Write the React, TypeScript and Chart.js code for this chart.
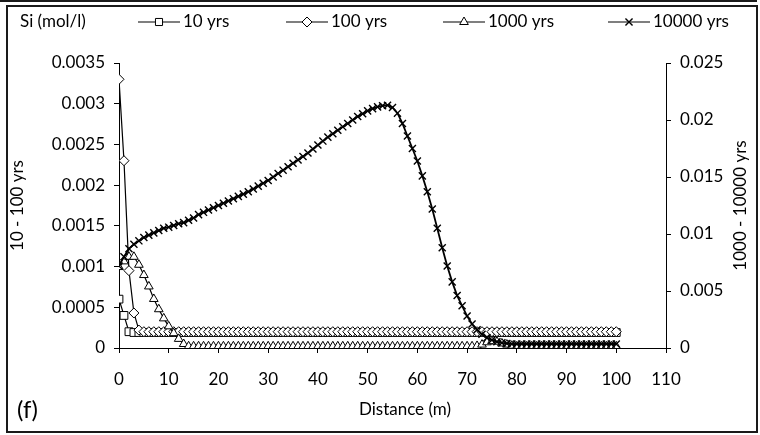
import { useEffect, useRef } from 'react';
import { Chart, registerables } from 'chart.js';
import { drawPoint } from 'chart.js/helpers';

Chart.register(...registerables);

// Distance along the profile (m)
const distance = [
  0, 1, 2, 3, 4, 5, 6, 7, 8, 9,
  10, 11, 12, 13, 14, 15, 16, 17, 18, 19,
  20, 21, 22, 23, 24, 25, 26, 27, 28, 29,
  30, 31, 32, 33, 34, 35, 36, 37, 38, 39,
  40, 41, 42, 43, 44, 45, 46, 47, 48, 49,
  50, 51, 52, 53, 54, 55, 56, 57, 58, 59,
  60, 61, 62, 63, 64, 65, 66, 67, 68, 69,
  70, 71, 72, 73, 74, 75, 76, 77, 78, 79,
  80, 81, 82, 83, 84, 85, 86, 87, 88, 89,
  90, 91, 92, 93, 94, 95, 96, 97, 98, 99,
  100,
];

// Si (mol/l) after 10 years (left axis)
const si10yrs = [
  0.0006, 0.0004, 0.0002, 0.00019, 0.00019, 0.00019, 0.00019, 0.00019, 0.00019, 0.00019,
  0.00019, 0.00019, 0.00019, 0.00019, 0.00019, 0.00019, 0.00019, 0.00019, 0.00019, 0.00019,
  0.00019, 0.00019, 0.00019, 0.00019, 0.00019, 0.00019, 0.00019, 0.00019, 0.00019, 0.00019,
  0.00019, 0.00019, 0.00019, 0.00019, 0.00019, 0.00019, 0.00019, 0.00019, 0.00019, 0.00019,
  0.00019, 0.00019, 0.00019, 0.00019, 0.00019, 0.00019, 0.00019, 0.00019, 0.00019, 0.00019,
  0.00019, 0.00019, 0.00019, 0.00019, 0.00019, 0.00019, 0.00019, 0.00019, 0.00019, 0.00019,
  0.00019, 0.00019, 0.00019, 0.00019, 0.00019, 0.00019, 0.00019, 0.00019, 0.00019, 0.00019,
  0.00019, 0.00019, 0.00019, 0.00019, 0.00019, 0.00019, 0.00019, 0.00019, 0.00019, 0.00019,
  0.00019, 0.00019, 0.00019, 0.00019, 0.00019, 0.00019, 0.00019, 0.00019, 0.00019, 0.00019,
  0.00019, 0.00019, 0.00019, 0.00019, 0.00019, 0.00019, 0.00019, 0.00019, 0.00019, 0.00019,
  0.00019,
];

// Si (mol/l) after 100 years (left axis)
const si100yrs = [
  0.0033, 0.0023, 0.00095, 0.00043, 0.00022, 0.0002, 0.0002, 0.0002, 0.0002, 0.0002,
  0.0002, 0.0002, 0.0002, 0.0002, 0.0002, 0.0002, 0.0002, 0.0002, 0.0002, 0.0002,
  0.0002, 0.0002, 0.0002, 0.0002, 0.0002, 0.0002, 0.0002, 0.0002, 0.0002, 0.0002,
  0.0002, 0.0002, 0.0002, 0.0002, 0.0002, 0.0002, 0.0002, 0.0002, 0.0002, 0.0002,
  0.0002, 0.0002, 0.0002, 0.0002, 0.0002, 0.0002, 0.0002, 0.0002, 0.0002, 0.0002,
  0.0002, 0.0002, 0.0002, 0.0002, 0.0002, 0.0002, 0.0002, 0.0002, 0.0002, 0.0002,
  0.0002, 0.0002, 0.0002, 0.0002, 0.0002, 0.0002, 0.0002, 0.0002, 0.0002, 0.0002,
  0.0002, 0.0002, 0.0002, 0.0002, 0.0002, 0.0002, 0.0002, 0.0002, 0.0002, 0.0002,
  0.0002, 0.0002, 0.0002, 0.0002, 0.0002, 0.0002, 0.0002, 0.0002, 0.0002, 0.0002,
  0.0002, 0.0002, 0.0002, 0.0002, 0.0002, 0.0002, 0.0002, 0.0002, 0.0002, 0.0002,
  0.0002,
];

// Si (mol/l) after 1000 years (right axis)
const si1000yrs = [
  0.0071, 0.0076, 0.008, 0.008, 0.0073, 0.0064, 0.0054, 0.0043, 0.0034, 0.0026,
  0.0019, 0.0013, 0.0008, 0.00035, 0.00015, 0.00015, 0.00015, 0.00015, 0.00015, 0.00015,
  0.00015, 0.00015, 0.00015, 0.00015, 0.00015, 0.00015, 0.00015, 0.00015, 0.00015, 0.00015,
  0.00015, 0.00015, 0.00015, 0.00015, 0.00015, 0.00015, 0.00015, 0.00015, 0.00015, 0.00015,
  0.00015, 0.00015, 0.00015, 0.00015, 0.00015, 0.00015, 0.00015, 0.00015, 0.00015, 0.00015,
  0.00015, 0.00015, 0.00015, 0.00015, 0.00015, 0.00015, 0.00015, 0.00015, 0.00015, 0.00015,
  0.00015, 0.00015, 0.00015, 0.00015, 0.00015, 0.00015, 0.00015, 0.00015, 0.00015, 0.00015,
  0.00015, 0.00015, 0.00018, 0.0003, 0.0005, 0.0006, 0.00055, 0.0004, 0.0003, 0.0002,
  0.00015, 0.00015, 0.00015, 0.00015, 0.00015, 0.00015, 0.00015, 0.00015, 0.00015, 0.00015,
  0.00015, 0.00015, 0.00015, 0.00015, 0.00015, 0.00015, 0.00015, 0.00015, 0.00015, 0.00015,
  0.00015,
];

// Si (mol/l) after 10000 years (right axis)
const si10000yrs = [
  0.0072, 0.008, 0.0087, 0.0091, 0.0094, 0.0097, 0.0099, 0.0101, 0.0103, 0.0105,
  0.0106, 0.01075, 0.0109, 0.011, 0.0112, 0.0114, 0.0117, 0.0119, 0.0121, 0.0123,
  0.0125, 0.0127, 0.0129, 0.0131, 0.0133, 0.0135, 0.0137, 0.01395, 0.0142, 0.01445,
  0.0147, 0.015, 0.0153, 0.0156, 0.0159, 0.0162, 0.0165, 0.0168, 0.0171, 0.01745,
  0.0178, 0.01815, 0.0185, 0.0188, 0.0191, 0.0194, 0.0197, 0.02, 0.0203, 0.02055,
  0.0208, 0.021, 0.02115, 0.02125, 0.0213, 0.0211, 0.0206, 0.0197, 0.0186, 0.0175,
  0.0164, 0.0151, 0.0137, 0.0122, 0.0105, 0.0088, 0.0072, 0.0058, 0.0046, 0.0037,
  0.0028, 0.0021, 0.0016, 0.0012, 0.0009, 0.0007, 0.00055, 0.00045, 0.0004, 0.00035,
  0.00035, 0.00035, 0.00035, 0.00035, 0.00035, 0.00035, 0.00035, 0.00035, 0.00035, 0.00035,
  0.00035, 0.00035, 0.00035, 0.00035, 0.00035, 0.00035, 0.00035, 0.00035, 0.00035, 0.00035,
  0.00035,
];

const seriesLabels = ['10 yrs', '100 yrs', '1000 yrs', '10000 yrs'];
const markerStyles = ['rect', 'rectRot', 'triangle', 'crossRot'];

const FONT = 'Lato, "Open Sans", sans-serif';
const FONT_SIZE = 17;
const INK = '#000';

const fmtTick = (v: number | string) => String(Number(Number(v).toFixed(4)));

// Frame, axis titles, panel letter and the legend row
const decorations = {
  id: 'decorations',
  beforeDraw(chart: Chart) {
    const ctx = chart.ctx;
    ctx.save();
    ctx.fillStyle = '#fff';
    ctx.fillRect(0, 0, chart.width, chart.height);
    ctx.restore();
  },
  afterDraw(chart: Chart) {
    const ctx = chart.ctx;
    const area = chart.chartArea;
    const midY = (area.top + area.bottom) / 2;
    ctx.save();

    // outer frame
    ctx.strokeStyle = '#1a1a1a';
    ctx.lineWidth = 2;
    ctx.beginPath();
    ctx.moveTo(0, 1);
    ctx.lineTo(757, 1);
    ctx.stroke();
    ctx.strokeRect(7, 6, 750, 426);

    ctx.fillStyle = INK;
    ctx.font = `${FONT_SIZE}px ${FONT}`;
    ctx.textBaseline = 'middle';

    // rotated axis titles
    ctx.textAlign = 'center';
    ctx.save();
    ctx.translate(18, midY);
    ctx.rotate(-Math.PI / 2);
    ctx.fillText('10 - 100 yrs', 0, 0);
    ctx.restore();
    ctx.save();
    ctx.translate(741, midY);
    ctx.rotate(-Math.PI / 2);
    ctx.fillText('1000 - 10000 yrs', 0, 0);
    ctx.restore();

    ctx.fillText('Distance (m)', 405, 410);
    ctx.font = `24px ${FONT}`;
    ctx.textAlign = 'left';
    ctx.fillText('(f)', 17, 410);

    // legend row
    ctx.font = `${FONT_SIZE}px ${FONT}`;
    ctx.fillText('Si (mol/l)', 20, 22);
    const legendStarts = [138, 286, 443, 608];
    const ly = 22;
    seriesLabels.forEach((label, i) => {
      const x0 = legendStarts[i];
      ctx.strokeStyle = INK;
      ctx.lineWidth = 1.2;
      ctx.beginPath();
      ctx.moveTo(x0, ly);
      ctx.lineTo(x0 + 42, ly);
      ctx.stroke();
      ctx.fillStyle = '#fff';
      ctx.lineWidth = i === 3 ? 1.4 : 1;
      drawPoint(ctx, { pointStyle: markerStyles[i] as any, rotation: 0, radius: 5, borderWidth: 1 }, x0 + 21, ly);
      ctx.fillStyle = INK;
      ctx.fillText(label, x0 + 45, ly);
    });

    ctx.restore();
  },
};

export default function App() {
  const canvasRef = useRef<HTMLCanvasElement>(null);

  useEffect(() => {
    const canvas = canvasRef.current;
    if (!canvas) return;
    const toPoints = (values: number[]) => distance.map((d, i) => ({ x: d, y: values[i] }));
    const base = {
      borderColor: INK,
      pointBorderColor: INK,
      pointBackgroundColor: '#fff',
      pointBorderWidth: 1,
      pointRadius: 5,
      borderWidth: 1.2,
      tension: 0,
      fill: false,
    };
    const tickFont = { family: FONT, size: FONT_SIZE };
    const axisGrid = { drawOnChartArea: false, drawTicks: true, tickLength: 5, color: INK };
    const axisBorder = { color: INK, width: 1 };

    const chart = new Chart(canvas, {
      type: 'line',
      data: {
        datasets: [
          { ...base, label: seriesLabels[0], data: toPoints(si10yrs), yAxisID: 'yL', pointStyle: 'rect', pointRadius: 5.5, order: 4 },
          { ...base, label: seriesLabels[1], data: toPoints(si100yrs), yAxisID: 'yL', pointStyle: 'rectRot', order: 3 },
          { ...base, label: seriesLabels[2], data: toPoints(si1000yrs), yAxisID: 'yR', pointStyle: 'triangle', order: 2 },
          { ...base, label: seriesLabels[3], data: toPoints(si10000yrs), yAxisID: 'yR', pointStyle: 'crossRot', borderWidth: 1.8, pointBorderWidth: 1.4, order: 1 },
        ],
      },
      options: {
        responsive: false,
        animation: false,
        devicePixelRatio: 1,
        layout: { padding: { top: 63, left: 0, right: 0, bottom: 0 } },
        plugins: { legend: { display: false }, tooltip: { enabled: false } },
        scales: {
          x: {
            type: 'linear',
            min: 0,
            max: 110,
            ticks: { stepSize: 10, color: INK, font: tickFont, padding: 16, maxRotation: 0 },
            grid: axisGrid,
            border: axisBorder,
            afterFit: (s: any) => { s.height = 87; },
          },
          yL: {
            type: 'linear',
            position: 'left',
            min: 0,
            max: 0.0035,
            ticks: { stepSize: 0.0005, color: INK, font: tickFont, padding: 9, callback: fmtTick },
            grid: axisGrid,
            border: axisBorder,
            afterFit: (s: any) => { s.width = 119; },
          },
          yR: {
            type: 'linear',
            position: 'right',
            min: 0,
            max: 0.025,
            ticks: { stepSize: 0.005, color: INK, font: tickFont, padding: 9, callback: fmtTick },
            grid: axisGrid,
            border: axisBorder,
            afterFit: (s: any) => { s.width = 94; },
          },
        },
      } as any,
      plugins: [decorations],
    });
    return () => chart.destroy();
  }, []);

  return (
    <div style={{ position: 'fixed', left: 0, top: 0, width: 760, height: 435, background: '#fff' }}>
      <canvas ref={canvasRef} width={760} height={435} style={{ display: 'block' }} />
    </div>
  );
}
